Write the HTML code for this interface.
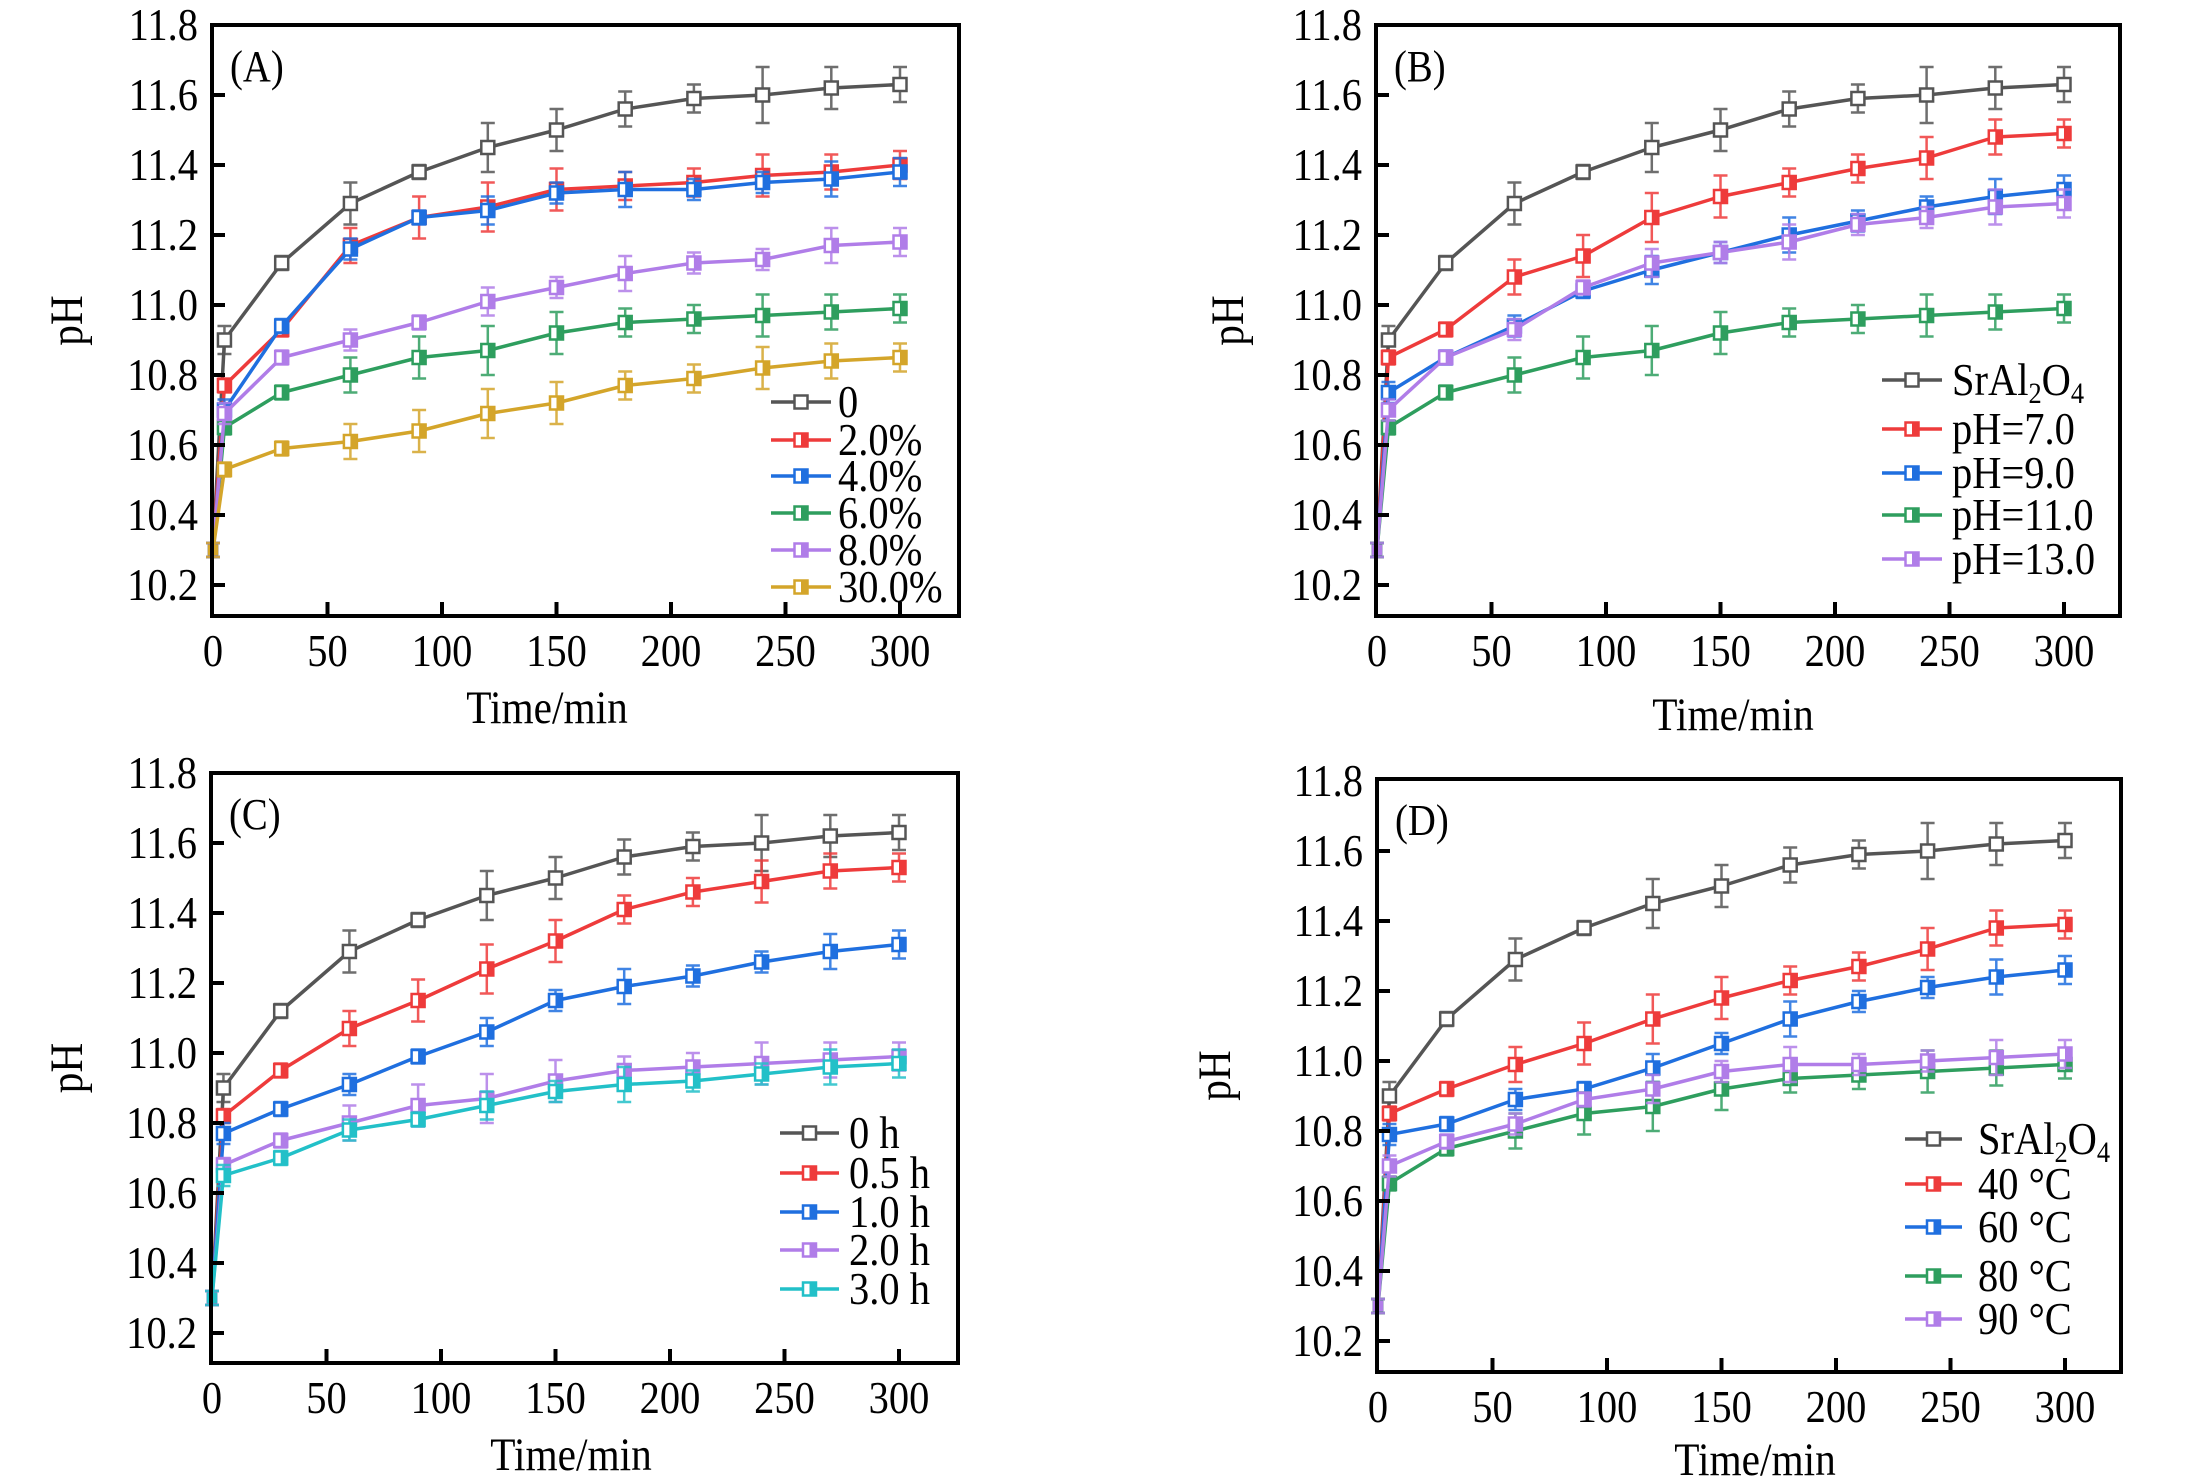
<!DOCTYPE html>
<html><head><meta charset="utf-8"><style>
html,body{margin:0;padding:0;background:#fff;}
svg{display:block;font-family:"Liberation Serif",serif;}
</style></head><body>
<svg id="fig" width="2205" height="1480" viewBox="0 0 2205 1480" xmlns="http://www.w3.org/2000/svg"></svg>
<script>
const times=[0,5,30,60,90,120,150,180,210,240,270,300];
const xTicks=[0,50,100,150,200,250,300];
const yTicks=[10.2,10.4,10.6,10.8,11.0,11.2,11.4,11.6,11.8];
const base=[10.30,10.90,11.12,11.29,11.38,11.45,11.50,11.56,11.59,11.60,11.62,11.63];
const baseErr=[0.02,0.04,0.02,0.06,0.02,0.07,0.06,0.05,0.04,0.08,0.06,0.05];
const errA=[0.02,0.02,0.02,0.05,0.06,0.07,0.06,0.04,0.04,0.06,0.05,0.04];
const errB=[0.02,0.03,0.02,0.03,0.02,0.04,0.03,0.05,0.03,0.03,0.05,0.04];

const namesA=["0","2.0%","4.0%","6.0%","8.0%","30.0%"];
const valsA=[base,
[10.30,10.77,10.93,11.17,11.25,11.28,11.33,11.34,11.35,11.37,11.38,11.40],
[10.30,10.70,10.94,11.16,11.25,11.27,11.32,11.33,11.33,11.35,11.36,11.38],
[10.30,10.65,10.75,10.80,10.85,10.87,10.92,10.95,10.96,10.97,10.98,10.99],
[10.30,10.69,10.85,10.90,10.95,11.01,11.05,11.09,11.12,11.13,11.17,11.18],
[10.30,10.53,10.59,10.61,10.64,10.69,10.72,10.77,10.79,10.82,10.84,10.85]];
const colorsA=["#555555","#ee3b3b","#1f6fdf","#2e9e5e","#b07de8","#d4a52a"];

const namesB=["SrAl2O4","pH=7.0","pH=9.0","pH=11.0","pH=13.0"];
const valsB=[base,
[10.30,10.85,10.93,11.08,11.14,11.25,11.31,11.35,11.39,11.42,11.48,11.49],
[10.30,10.75,10.85,10.94,11.04,11.10,11.15,11.20,11.24,11.28,11.31,11.33],
[10.30,10.65,10.75,10.80,10.85,10.87,10.92,10.95,10.96,10.97,10.98,10.99],
[10.30,10.70,10.85,10.93,11.05,11.12,11.15,11.18,11.23,11.25,11.28,11.29]];
const colorsB=["#555555","#ee3b3b","#1f6fdf","#2e9e5e","#b07de8"];

const namesC=["0 h","0.5 h","1.0 h","2.0 h","3.0 h"];
const valsC=[base,
[10.30,10.82,10.95,11.07,11.15,11.24,11.32,11.41,11.46,11.49,11.52,11.53],
[10.30,10.77,10.84,10.91,10.99,11.06,11.15,11.19,11.22,11.26,11.29,11.31],
[10.30,10.68,10.75,10.80,10.85,10.87,10.92,10.95,10.96,10.97,10.98,10.99],
[10.30,10.65,10.70,10.78,10.81,10.85,10.89,10.91,10.92,10.94,10.96,10.97]];
const colorsC=["#555555","#ee3b3b","#1f6fdf","#b07de8","#22c0c8"];

const namesD=["SrAl2O4","40 °C","60 °C","80 °C","90 °C"];
const valsD=[base,
[10.30,10.85,10.92,10.99,11.05,11.12,11.18,11.23,11.27,11.32,11.38,11.39],
[10.30,10.79,10.82,10.89,10.92,10.98,11.05,11.12,11.17,11.21,11.24,11.26],
[10.30,10.65,10.75,10.80,10.85,10.87,10.92,10.95,10.96,10.97,10.98,10.99],
[10.30,10.70,10.77,10.82,10.89,10.92,10.97,10.99,10.99,11.00,11.01,11.02]];
const colorsD=["#555555","#ee3b3b","#1f6fdf","#2e9e5e","#b07de8"];

const NS="http://www.w3.org/2000/svg";
const svg=document.getElementById('fig');
function mk(tag,attrs,parent){const e=document.createElementNS(NS,tag);for(const k in attrs)e.setAttribute(k,attrs[k]);(parent||svg).appendChild(e);return e;}
const SX=0.88;
function txt(parent,x,y,size,anchor,extra){
 const a={x:0,y:0,'font-size':size,'text-anchor':anchor,fill:'#000',transform:`translate(${x} ${y}) scale(${SX} 1)${extra||''}`};
 return mk('text',a,parent);
}

const panels=[
 {id:"a",label:"(A)",names:namesA,vals:valsA,colors:colorsA,L:212,R:959,T:25,B:616,y102:585,phx:71,tx:547,ty:723,lg:{x1:771,x2:831,tx:838,rows:[402,440,476,513,550,587]}},
 {id:"b",label:"(B)",names:namesB,vals:valsB,colors:colorsB,L:1376,R:2120,T:25,B:616,y102:585,phx:1232,tx:1733,ty:730,lg:{x1:1882,x2:1942,tx:1952,rows:[380,429,473,515,559]}},
 {id:"c",label:"(C)",names:namesC,vals:valsC,colors:colorsC,L:211,R:958,T:773,B:1363,y102:1333,phx:71,tx:571,ty:1470,lg:{x1:780,x2:839,tx:849,rows:[1133,1173,1212,1250,1289]}},
 {id:"d",label:"(D)",names:namesD,vals:valsD,colors:colorsD,L:1377,R:2121,T:779,B:1372,y102:1341,phx:1219,tx:1755,ty:1475,lg:{x1:1905,x2:1962,tx:1978,rows:[1139,1184,1227,1276,1319]}}
];

panels.forEach(p=>{
 const x0=p.L+1, x300=p.L+688;
 const xs=v=>x0+(v/300)*(x300-x0);
 const y118=p.y102-560;
 const ys=v=>p.y102-(v-10.2)/1.6*(p.y102-y118);
 const g=mk('g',{});
 
 
 p.vals.forEach((vals,si)=>{
  const c=p.colors[si];
  const err=si===0?baseErr:(si%2?errA:errB);
  const sg=mk('g',{},g);
  
  
  const pts=vals.map((v,i)=>xs(times[i])+','+ys(v)).join(' ');
  const pl=mk('polyline',{points:pts,fill:'none',stroke:c,'stroke-width':3.5,'stroke-linejoin':'round'},sg);
  
  
  vals.forEach((v,i)=>{
   const x=xs(times[i]),y=ys(v),e=(p.y102-y118)/1.6*err[i];
   const eb=mk('path',{d:`M${x},${y-e}V${y+e}M${x-7},${y-e}H${x+7}M${x-7},${y+e}H${x+7}`,stroke:c,'stroke-width':2.5,fill:'none',opacity:0.85},sg);
   
   
   const s=i===0?4:6.5;
   const m=mk('rect',{x:x-s,y:y-s,width:2*s,height:2*s,fill:'#fff',stroke:c,'stroke-width':2.5},sg);
   
   
   if(si>0){const h=mk('rect',{x:x,y:y-s,width:s,height:2*s,fill:c},sg);
    
    }
  });
 });
 const fr=mk('rect',{x:p.L,y:p.T,width:p.R-p.L,height:p.B-p.T,fill:'none',stroke:'#000','stroke-width':4},g);
 
 
 yTicks.forEach(v=>{
  const y=ys(v);
  if(y>p.T+4){const t=mk('line',{x1:p.L,x2:p.L+13,y1:y,y2:y,stroke:'#000','stroke-width':4},g);
   
   }
  const tl=txt(g,p.L-14,y+15,46,'end');
  tl.textContent=v.toFixed(1);
  
  
 });
 xTicks.forEach(v=>{
  const x=xs(v);
  if(v>0){const t=mk('line',{x1:x,x2:x,y1:p.B,y2:p.B-14,stroke:'#000','stroke-width':4},g);
   
   }
  const tl=txt(g,x,p.B+50,46,'middle');
  tl.textContent=v;
  
  
 });
 const xt=txt(g,p.tx,p.ty,47,'middle');
 xt.textContent='Time/min';
 
 
 const cy=(p.T+p.B)/2;
 const yt=mk('text',{x:0,y:0,'font-size':47,'text-anchor':'middle','dominant-baseline':'middle',transform:`translate(${p.phx} ${cy}) rotate(-90) scale(${SX} 1)`,fill:'#000'},g);
 yt.textContent='pH';
 
 
 const pl=txt(g,p.L+18,p.T+56,44,'start');
 pl.textContent=p.label;
 
 
 p.names.forEach((n,i)=>{
  const c=p.colors[i],y=p.lg.rows[i],mx=(p.lg.x1+p.lg.x2)/2;
  const lg=mk('g',{},g);
  
  
  mk('line',{x1:p.lg.x1,x2:p.lg.x2,y1:y,y2:y,stroke:c,'stroke-width':3.5},lg);
  mk('rect',{x:mx-6.5,y:y-6.5,width:13,height:13,fill:'#fff',stroke:c,'stroke-width':2.5},lg);
  if(i>0)mk('rect',{x:mx,y:y-6.5,width:6.5,height:13,fill:c},lg);
  const t=txt(lg,p.lg.tx,y+15,46,'start');
  if(n==='SrAl2O4'){t.innerHTML='SrAl<tspan font-size="30" dy="8">2</tspan><tspan dy="-8">O</tspan><tspan font-size="30" dy="8">4</tspan>';}
  else t.textContent=n;
 });
});
</script>
</body></html>
